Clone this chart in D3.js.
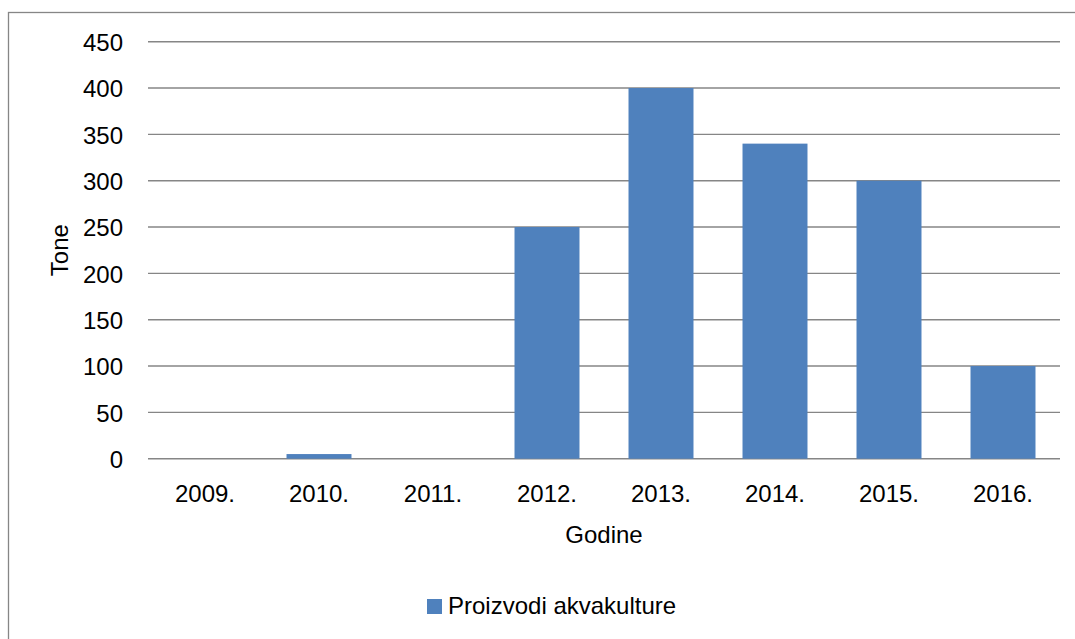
<!DOCTYPE html>
<html>
<head>
<meta charset="utf-8">
<script src="https://cdn.jsdelivr.net/npm/d3@7"></script>
<style>
  html, body { margin: 0; padding: 0; background: #fff; }
  svg { display: block; font-family: "Liberation Sans", Arial, sans-serif; }
</style>
</head>
<body>
<svg id="chart" width="1075" height="639"></svg>
<script>
const categories = ["2009.", "2010.", "2011.", "2012.", "2013.", "2014.", "2015.", "2016."];
const values = [0, 5, 0, 250, 400, 340, 300, 100];
const yTicks = [0, 50, 100, 150, 200, 250, 300, 350, 400, 450];
const seriesName = "Proizvodi akvakulture";
const xTitle = "Godine";
const yTitle = "Tone";

const svg = d3.select("#chart");
const W = 1075, H = 639;
const plot = { left: 148, right: 1060, top: 41.7, bottom: 458.7 };
const grey = "#868686";
const barColor = "#4F81BD";
const fontSize = 24;

// Outer chart border (extends beyond right/bottom edges as in reference)
svg.append("rect")
  .attr("x", 8.5).attr("y", 12.5)
  .attr("width", 1200).attr("height", 800)
  .attr("fill", "none").attr("stroke", grey).attr("stroke-width", 1.3);

const x = d3.scaleBand().domain(categories)
  .range([plot.left, plot.right]).paddingInner(0.43).paddingOuter(0.215);
const y = d3.scaleLinear().domain([0, 450]).range([plot.bottom, plot.top]);

// Gridlines
svg.append("g").selectAll("line").data(yTicks).join("line")
  .attr("x1", plot.left).attr("x2", plot.right)
  .attr("y1", d => y(d)).attr("y2", d => y(d))
  .attr("stroke", grey).attr("stroke-width", 1.4);

// Y axis labels
const yAxis = d3.axisLeft(y).tickValues(yTicks).tickSize(0).tickPadding(0);
const gy = svg.append("g").attr("transform", `translate(${plot.left - 25},0)`).call(yAxis);
gy.select(".domain").remove();
gy.selectAll("text").attr("font-size", fontSize).attr("font-family", "Liberation Sans, Arial, sans-serif")
  .attr("fill", "#000").attr("dy", "0.36em");

// Bars
svg.append("g").selectAll("rect").data(values.map((v, i) => ({ c: categories[i], v })))
  .join("rect")
  .attr("x", d => x(d.c))
  .attr("width", x.bandwidth())
  .attr("y", d => y(d.v))
  .attr("height", d => y(0) - y(d.v))
  .attr("fill", barColor);

// X axis labels
const xAxis = d3.axisBottom(x).tickSize(0).tickPadding(0);
const gx = svg.append("g").attr("transform", `translate(0,${plot.bottom})`).call(xAxis);
gx.select(".domain").remove();
gx.selectAll("text").attr("font-size", fontSize).attr("font-family", "Liberation Sans, Arial, sans-serif")
  .attr("fill", "#000").attr("dy", null).attr("y", 43);

// Axis titles
svg.append("text").attr("x", (plot.left + plot.right) / 2).attr("y", 543)
  .attr("text-anchor", "middle").attr("font-size", fontSize).attr("fill", "#000").text(xTitle);
svg.append("text")
  .attr("transform", `translate(68,${(plot.top + plot.bottom) / 2}) rotate(-90)`)
  .attr("text-anchor", "middle").attr("font-size", fontSize).attr("fill", "#000").text(yTitle);

// Legend
const lg = svg.append("g");
lg.append("rect").attr("x", 427).attr("y", 599).attr("width", 15).attr("height", 15).attr("fill", barColor);
lg.append("text").attr("x", 448).attr("y", 614).attr("font-size", fontSize).attr("fill", "#000").text(seriesName);
</script>
</body>
</html>
